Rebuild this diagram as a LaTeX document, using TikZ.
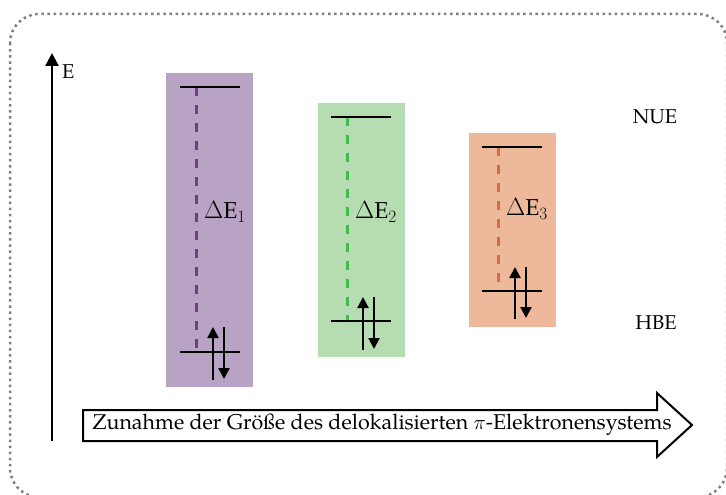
\documentclass[tikz,border=0pt]{standalone}
\usepackage{fontspec}
\setmainfont{TeX Gyre Pagella}
\usetikzlibrary{arrows.meta}
\definecolor{boxpurple}{HTML}{B9A3C5}
\definecolor{boxgreen}{HTML}{B6DDB1}
\definecolor{boxorange}{HTML}{EEB99B}
\definecolor{dashpurple}{HTML}{6E3F82}
\definecolor{dashgreen}{HTML}{3DBE4C}
\definecolor{dashorange}{HTML}{D9693E}
\definecolor{framegray}{HTML}{7F7F7F}
\tikzset{
  colbox/.style={draw=none,minimum width=87pt,anchor=north west,inner sep=0pt},
  level/.style={line width=2.4pt,black},
  gap/.style={line width=3pt,dash pattern=on 9pt off 9pt},
  spin/.style={line width=2.2pt,-{Triangle[width=11pt,length=11pt]}},
  lbl/.style={font=\fontsize{23}{27}\selectfont,anchor=west,inner sep=0pt},
  side/.style={font=\fontsize{20}{24}\selectfont,inner sep=0pt},
}
\begin{document}
\begin{tikzpicture}[x=1pt,y=-1pt]
\useasboundingbox (0,0) rectangle (726,495);
% frame
\draw[framegray,line width=2.5pt,dash pattern=on 2.5pt off 3.6pt,rounded corners=29pt] (10,14) rectangle (727,497);
% energy axis
\coordinate (axbot) at (52,441);
\coordinate (axtop) at (52,53);
\draw[line width=2.4pt,-{Triangle[width=13pt,length=13pt]}] (axbot) -- (axtop);
\node[side,anchor=west] (elab) at (62,72) {E};
% boxes
\node[colbox,fill=boxpurple,minimum height=314pt] (b1) at (166,73) {};
\node[colbox,fill=boxgreen,minimum height=254pt] (b2) at (318,103) {};
\node[colbox,fill=boxorange,minimum height=194pt] (b3) at (469,133) {};
% column 1
\coordinate (l1a) at (180,87); \coordinate (l1b) at (240,87);
\coordinate (h1a) at (180,352); \coordinate (h1b) at (240,352);
\coordinate (d1t) at (196,87); \coordinate (d1b) at (196,352);
\draw[gap,dashpurple] (d1t) -- (d1b);
\draw[level] (l1a) -- (l1b);
\draw[level] (h1a) -- (h1b);
\coordinate (u1s) at (213,380); \coordinate (u1e) at (213,327);
\coordinate (w1s) at (224,327); \coordinate (w1e) at (224,379);
\draw[spin] (u1s) -- (u1e);
\draw[spin] (w1s) -- (w1e);
\node[lbl] (de1) at (204,212) {$\Delta$E$_1$};
% column 2
\coordinate (l2a) at (331,117); \coordinate (l2b) at (391,117);
\coordinate (h2a) at (331,321); \coordinate (h2b) at (391,321);
\coordinate (d2t) at (347,117); \coordinate (d2b) at (347,321);
\draw[gap,dashgreen] (d2t) -- (d2b);
\draw[level] (l2a) -- (l2b);
\draw[level] (h2a) -- (h2b);
\coordinate (u2s) at (363,350); \coordinate (u2e) at (363,297);
\coordinate (w2s) at (374,297); \coordinate (w2e) at (374,349);
\draw[spin] (u2s) -- (u2e);
\draw[spin] (w2s) -- (w2e);
\node[lbl] (de2) at (355,212) {$\Delta$E$_2$};
% column 3
\coordinate (l3a) at (482,147); \coordinate (l3b) at (542,147);
\coordinate (h3a) at (482,291); \coordinate (h3b) at (542,291);
\coordinate (d3t) at (498,147); \coordinate (d3b) at (498,291);
\draw[gap,dashorange] (d3t) -- (d3b);
\draw[level] (l3a) -- (l3b);
\draw[level] (h3a) -- (h3b);
\coordinate (u3s) at (515,319); \coordinate (u3e) at (515,267);
\coordinate (w3s) at (526,267); \coordinate (w3e) at (526,318);
\draw[spin] (u3s) -- (u3e);
\draw[spin] (w3s) -- (w3e);
\node[lbl] (de3) at (506,209) {$\Delta$E$_3$};
% side labels
\node[side] (nue) at (655,117) {NUE};
\node[side] (hbe) at (656,323) {HBE};
% big arrow
\coordinate (ar1) at (83,410);
\coordinate (ar2) at (657,410);
\coordinate (ar3) at (657,393);
\coordinate (ar4) at (692,425);
\coordinate (ar5) at (657,457);
\coordinate (ar6) at (657,441);
\coordinate (ar7) at (83,441);
\draw[line width=2pt,fill=white,line join=miter] (ar1) -- (ar2) -- (ar3) -- (ar4) -- (ar5) -- (ar6) -- (ar7) -- cycle;
\node[font=\fontsize{21.4}{25}\selectfont,inner sep=0pt] (arrtext) at (382,425) {Zunahme der Größe des delokalisierten $\pi$-Elektronensystems};
\end{tikzpicture}
\end{document}
